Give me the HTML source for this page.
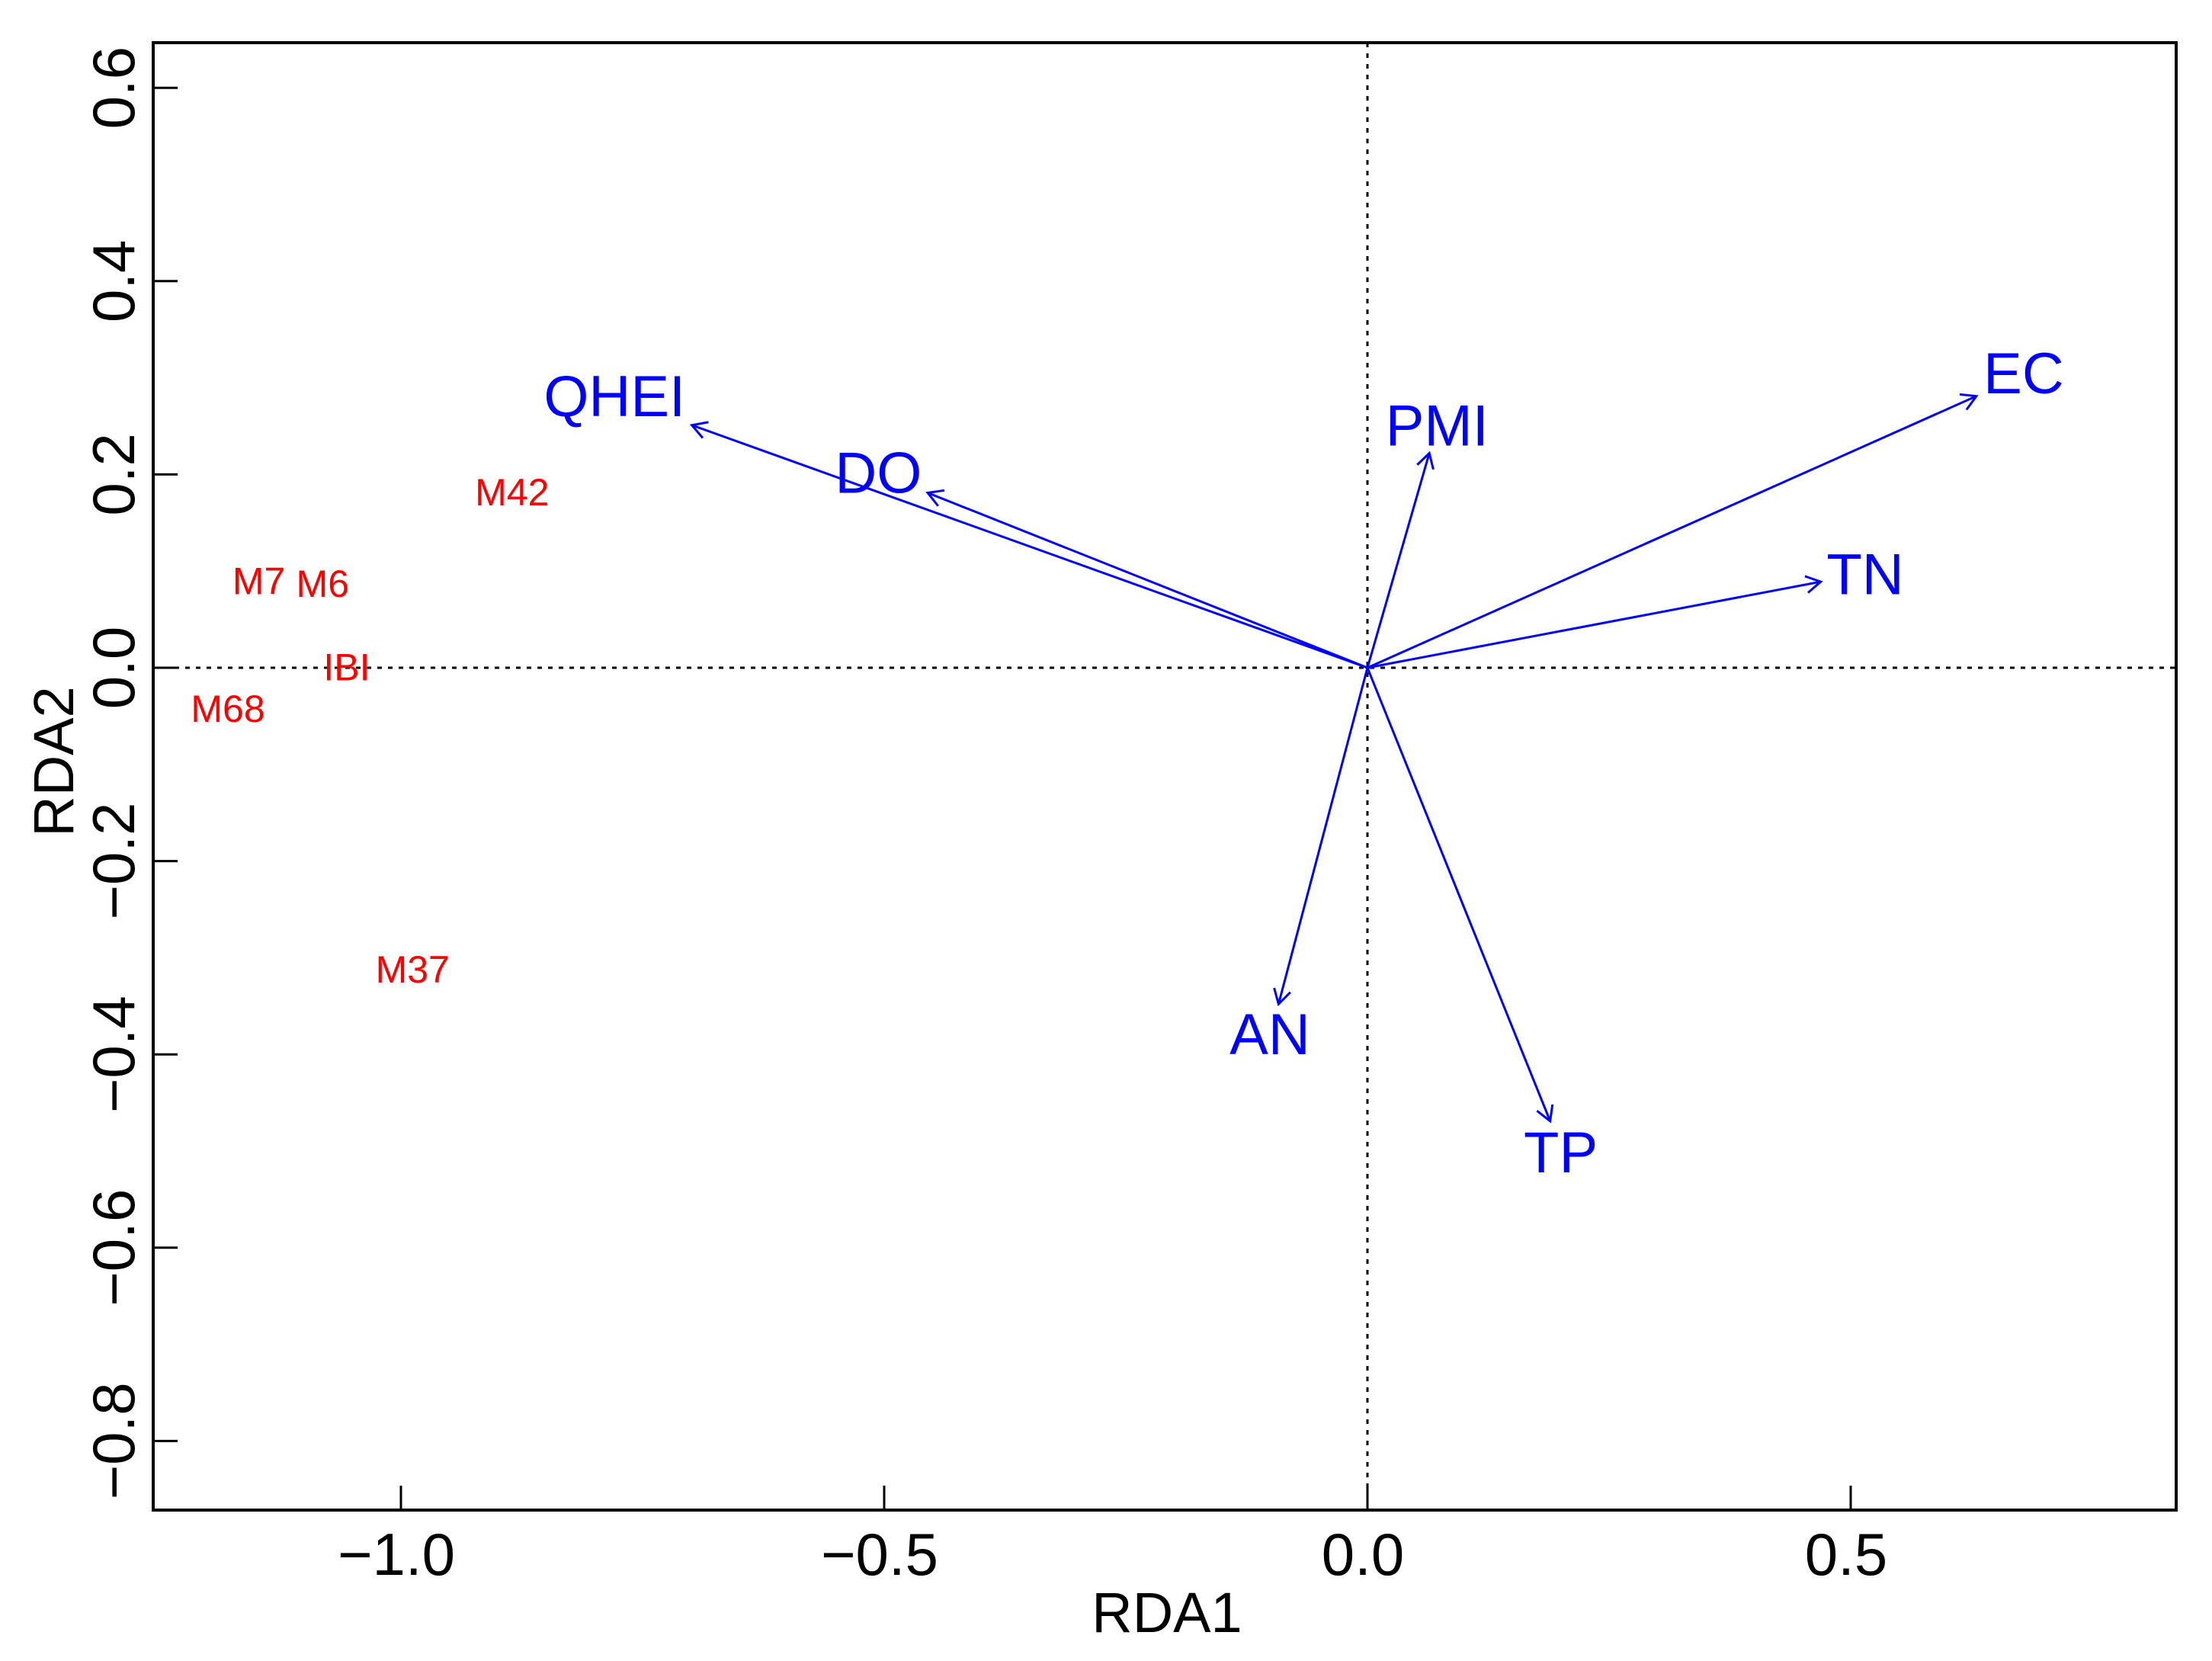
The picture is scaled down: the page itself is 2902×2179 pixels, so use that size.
<!DOCTYPE html>
<html><head><meta charset="utf-8"><style>
html,body{margin:0;padding:0;background:#fff}
svg{display:block}
text{font-family:"Liberation Sans",Arial,sans-serif}
</style></head><body>
<svg id="chart" xmlns="http://www.w3.org/2000/svg" width="2902" height="2179" viewBox="0 0 2902 2179"></svg>
<script>
const envNames = ["QHEI","DO","PMI","EC","TN","AN","TP"];
const envX = [-0.699,-0.455,0.064,0.630,0.469,-0.092,0.189];
const envY = [0.251,0.181,0.222,0.281,0.089,-0.348,-0.469];
const envLabelX = [-0.779,-0.506,0.072,0.679,0.515,-0.101,0.200];
const envLabelY = [0.279,0.200,0.249,0.303,0.095,-0.381,-0.503];
const siteNames = ["M42","M7","M6","IBI","M68","M37"];
const siteX = [-0.885,-1.147,-1.081,-1.056,-1.179,-0.988];
const siteY = [0.180,0.088,0.085,-0.001,-0.044,-0.314];
const xTicks = [-1.0,-0.5,0.0,0.5];
const xTickLabels = ["\u22121.0","\u22120.5","0.0","0.5"];
const yTicks = [-0.8,-0.6,-0.4,-0.2,0.0,0.2,0.4,0.6];
const yTickLabels = ["\u22120.8","\u22120.6","\u22120.4","\u22120.2","0.0","0.2","0.4","0.6"];

const svg = document.getElementById('chart');
const NS = "http://www.w3.org/2000/svg";
const L=201,R=2855,T=56,B=1981, X0=1794, Y0=876, K=1268;
const sx = v => X0 + v*K;
const sy = v => Y0 - v*K;
function mk(tag, attrs){const e=document.createElementNS(NS,tag);for(const k in attrs)e.setAttribute(k,attrs[k]);svg.appendChild(e);return e;}

let e = mk('line',{x1:L,x2:R,y1:sy(0),y2:sy(0),stroke:'#000','stroke-width':3,'stroke-dasharray':'6 8'});


e = mk('line',{x1:sx(0),x2:sx(0),y1:T,y2:B,stroke:'#000','stroke-width':3,'stroke-dasharray':'6 8'});



e = mk('rect',{x:L,y:T,width:R-L,height:B-T,fill:'none',stroke:'#000','stroke-width':4});



xTicks.forEach((v,i)=>{
  let t = mk('line',{x1:sx(v),x2:sx(v),y1:B,y2:B-32,stroke:'#000','stroke-width':3});
  
  
  let lb = mk('text',{x:sx(v)-6,y:2066,'font-size':78,'text-anchor':'middle',fill:'#000'});
  lb.textContent = xTickLabels[i];
  
  
});
yTicks.forEach((v,i)=>{
  let t = mk('line',{x1:L,x2:L+32,y1:sy(v),y2:sy(v),stroke:'#000','stroke-width':3});
  
  
  let lb = mk('text',{x:0,y:0,'font-size':78,'text-anchor':'middle',fill:'#000',transform:`translate(176,${sy(v)}) rotate(-90)`});
  lb.textContent = yTickLabels[i];
  
  
});
e = mk('text',{x:1531,y:2141,'font-size':74,'text-anchor':'middle',fill:'#000'});
e.textContent='RDA1';


e = mk('text',{x:0,y:0,'font-size':74,'text-anchor':'middle',fill:'#000',transform:'translate(96,999) rotate(-90)'});
e.textContent='RDA2';



envNames.forEach((n,i)=>{
  const x1=sx(0),y1=sy(0),x2=sx(envX[i]),y2=sy(envY[i]);
  const a=Math.atan2(y2-y1,x2-x1), h=22, w=Math.PI/6;
  const p1=[x2-h*Math.cos(a-w),y2-h*Math.sin(a-w)], p2=[x2-h*Math.cos(a+w),y2-h*Math.sin(a+w)];
  let ln = mk('path',{d:`M${x1},${y1}L${x2},${y2}M${p1[0]},${p1[1]}L${x2},${y2}L${p2[0]},${p2[1]}`,stroke:'#0000ff','stroke-width':3,fill:'none'});
  
  
  let lb = mk('text',{x:sx(envLabelX[i]),y:sy(envLabelY[i])+24,'font-size':76,'text-anchor':'middle',fill:'#0000ff'});
  lb.textContent=n;
  
  
});
siteNames.forEach((n,i)=>{
  let lb = mk('text',{x:sx(siteX[i]),y:sy(siteY[i])+15,'font-size':50,'text-anchor':'middle',fill:'#ff0000'});
  lb.textContent=n;
  
  
});
</script>
</body></html>
